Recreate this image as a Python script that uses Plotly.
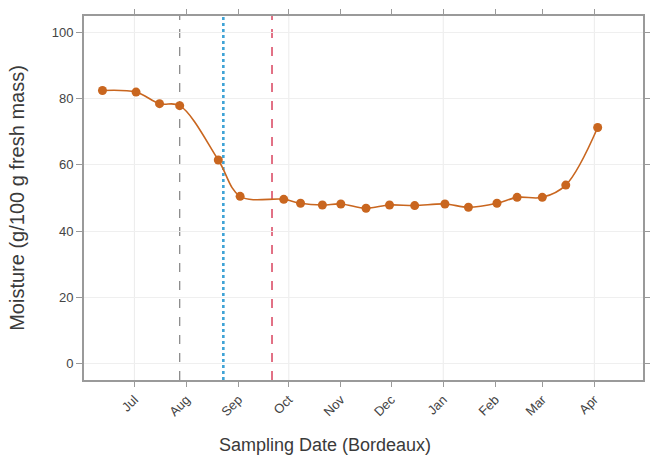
import plotly.graph_objects as go

# ---- data ----
sample_dates = ["2021-06-12", "2021-07-02", "2021-07-16", "2021-07-28", "2021-08-20",
                "2021-09-02", "2021-09-28", "2021-10-08", "2021-10-21", "2021-11-01",
                "2021-11-16", "2021-11-30", "2021-12-15", "2022-01-02", "2022-01-16",
                "2022-02-02", "2022-02-14", "2022-03-01", "2022-03-15", "2022-04-03"]
moisture = [82.5, 82.0, 78.5, 77.9, 61.5, 50.5, 49.6, 48.4, 47.9, 48.2,
            46.9, 47.9, 47.7, 48.2, 47.2, 48.4, 50.2, 50.2, 53.9, 71.3]

month_ticks = ["2021-07-01", "2021-08-01", "2021-09-01", "2021-10-01", "2021-11-01",
               "2021-12-01", "2022-01-01", "2022-02-01", "2022-03-01", "2022-04-01"]
month_labels = ["Jul", "Aug", "Sep", "Oct", "Nov", "Dec", "Jan", "Feb", "Mar", "Apr"]

ref_dates = ["2021-07-28", "2021-08-23", "2021-09-21"]
ref_colors = ["#8c8c8c", "#3fa3d6", "#d9435e"]
ref_widths = [1.3, 2.6, 1.5]
ref_dash = ["dash", "dot", "dash"]

grid_dates = ["2021-07-01", "2021-10-01", "2022-01-01", "2022-04-01"]
y_ticks = [0, 20, 40, 60, 80, 100]

x_title = "Sampling Date (Bordeaux)"
y_title = "Moisture (g/100 g fresh mass)"

color = "#c9661f"
axis_col = "#9a9a9a"

fig = go.Figure()
fig.add_trace(go.Scatter(
    x=sample_dates, y=moisture, mode="lines+markers",
    line=dict(color=color, width=1.6, shape="spline", smoothing=1.0),
    marker=dict(color=color, size=9),
    showlegend=False,
))

shapes = []
for d in grid_dates:
    shapes.append(dict(type="line", xref="x", yref="paper", x0=d, x1=d, y0=0, y1=1,
                       line=dict(color="#ebebeb", width=1), layer="below"))
for d, c, w, ds in zip(ref_dates, ref_colors, ref_widths, ref_dash):
    shapes.append(dict(type="line", xref="x", yref="paper", x0=d, x1=d, y0=0, y1=1,
                       line=dict(color=c, width=w, dash=ds), layer="below"))

fig.update_layout(
    width=650, height=461,
    margin=dict(l=84, r=7, t=16, b=81),
    paper_bgcolor="white", plot_bgcolor="white",
    font=dict(family="Liberation Sans, Arial, sans-serif", color="#444"),
    shapes=shapes,
    annotations=[dict(text=x_title, xref="paper", yref="paper", x=0.431, y=-0.178,
                      xanchor="center", yanchor="middle", showarrow=False,
                      font=dict(size=18, color="#3a3a3a"))],
)
fig.update_xaxes(
    type="date", range=["2021-06-01", "2022-04-30"], automargin=False,
    tickvals=month_ticks, ticktext=month_labels, tickangle=-45,
    tickfont=dict(size=13, color="#444"),
    showgrid=False, zeroline=False,
    showline=True, linecolor=axis_col, linewidth=2, mirror="ticks",
    ticks="outside", ticklen=5, tickcolor=axis_col,
)
fig.update_yaxes(
    range=[-5, 105], tickvals=y_ticks, automargin=False,
    tickfont=dict(size=13, color="#444"),
    showgrid=True, gridcolor="#efefef", zeroline=False,
    showline=True, linecolor=axis_col, linewidth=2, mirror="ticks",
    ticks="outside", ticklen=6, tickcolor=axis_col,
    title=dict(text=y_title, font=dict(size=20, color="#3a3a3a"), standoff=22),
)

fig.write_html("out.html", config={"responsive": False, "displayModeBar": False},
               post_script="document.body.style.margin='0';document.body.style.overflow='hidden';")
